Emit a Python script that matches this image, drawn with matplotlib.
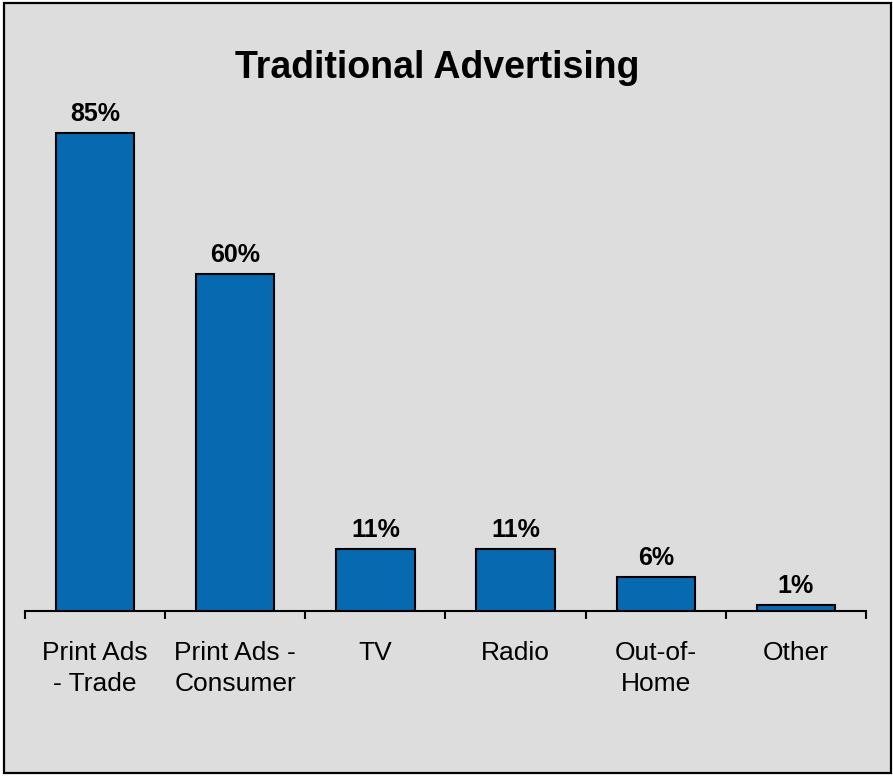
import matplotlib
matplotlib.use("Agg")
import matplotlib.pyplot as plt
from matplotlib.patches import Rectangle

categories = ["Print Ads\n- Trade", "Print Ads -\nConsumer", "TV", "Radio", "Out-of-\nHome", "Other"]
shares = [85, 60, 11, 11, 6, 1]
value_labels = ["85%", "60%", "11%", "11%", "6%", "1%"]

plt.rcParams["font.family"] = ["Liberation Sans", "DejaVu Sans"]

W, H = 893, 777
fig = plt.figure(figsize=(W / 100, H / 100), dpi=100, facecolor="white")

# gray panel with a black frame, kept behind the axes
panel = Rectangle((4 / W, 4 / H), 887 / W, 770 / H, transform=fig.transFigure,
                  facecolor="#dddddd", edgecolor="black", linewidth=1.6, zorder=-5)
fig.add_artist(panel)

ax = fig.add_axes([25 / W, (H - 611) / H, 841 / W, 562 / H])
ax.set_facecolor("none")
ax.set_zorder(1)

x = range(len(categories))
ax.bar(x, shares, width=0.56, color="#0769b0", edgecolor="black", linewidth=1.5, zorder=3)

for i, (v, lab) in enumerate(zip(shares, value_labels)):
    ax.annotate(lab, (i, v), xytext=(0, 8.6), textcoords="offset points",
                ha="center", va="baseline", fontsize=18, fontweight="bold")

ax.set_xlim(-0.5, len(categories) - 0.5)
ax.set_ylim(0, 100)

for s in ["top", "right", "left"]:
    ax.spines[s].set_visible(False)
ax.spines["bottom"].set_linewidth(1.5)
ax.set_yticks([])

ax.set_xticks(list(x))
ax.set_xticklabels(categories, fontsize=19, linespacing=1.4)
ax.tick_params(axis="x", which="major", length=0, pad=21.5)
ax.set_xticks([i - 0.5 for i in range(len(categories) + 1)], minor=True)
ax.tick_params(axis="x", which="minor", length=5.8, width=1.5, direction="out")

fig.text(437 / W, (H - 78) / H, "Traditional Advertising", ha="center", va="baseline",
         fontsize=27, fontweight="bold", zorder=2)

fig.savefig("out.png", dpi=100, facecolor="white")
